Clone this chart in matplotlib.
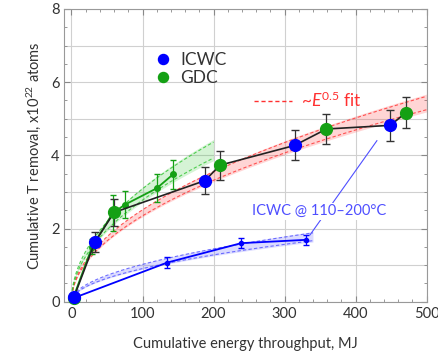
import numpy as np
import matplotlib
matplotlib.use("Agg")
import matplotlib.pyplot as plt
from matplotlib.lines import Line2D

plt.rcParams['font.family'] = ['Lato', 'DejaVu Sans']
plt.rcParams['mathtext.fontset'] = 'custom'
plt.rcParams['mathtext.rm'] = 'Lato'
plt.rcParams['mathtext.it'] = 'Lato:italic'

# combined sequence (ICWC + GDC), black line
icwc_x = [3, 33, 188, 314, 449]
icwc_y = [0.12, 1.63, 3.31, 4.27, 4.82]
icwc_err = [0.05, 0.27, 0.36, 0.41, 0.42]
gdc_x = [3, 60, 209, 359, 471]
gdc_y = [0.10, 2.44, 3.73, 4.72, 5.17]
gdc_err = [0.05, 0.36, 0.40, 0.41, 0.42]

# GDC only series (thin green)
gdc2_x = [2, 29, 58, 75, 120, 143]
gdc2_y = [0.08, 1.50, 2.42, 2.65, 3.10, 3.48]
gdc2_err = [0.05, 0.20, 0.50, 0.37, 0.38, 0.39]

# ICWC at 110-200 C (thin blue)
icwc2_x = [3, 135, 239, 330]
icwc2_y = [0.10, 1.07, 1.60, 1.69]
icwc2_err = [0.03, 0.15, 0.14, 0.13]

BLUE = '#0000ff'
GREEN = '#14a014'
RED = '#ff3030'
LBLUE = '#4f4fff'

fig = plt.figure(figsize=(4.38, 3.6), dpi=100)
ax = fig.add_axes([0.147, 0.162, 0.827, 0.813])


def sqrt_fit(x, y):
    x = np.asarray(x, float)
    y = np.asarray(y, float)
    return np.sum(y * np.sqrt(x)) / np.sum(x)


def band(x, y, xmax, rel, color, alpha):
    a = sqrt_fit(x, y)
    e = np.linspace(0, xmax, 200)
    c = a * np.sqrt(e)
    ax.fill_between(e, c * (1 - rel), c * (1 + rel), color=color, alpha=alpha, lw=0, zorder=2)
    ax.plot(e, c * (1 - rel * 0.75), ls=(0, (3, 2)), color=color, lw=0.8, alpha=0.8, zorder=2)
    ax.plot(e, c * (1 + rel * 0.75), ls=(0, (3, 2)), color=color, lw=0.8, alpha=0.8, zorder=2)


comb_x = np.array(icwc_x + gdc_x)
comb_y = np.array(icwc_y + gdc_y)
band(comb_x, comb_y, 500, 0.045, RED, 0.2)
band(gdc2_x, gdc2_y, 200, 0.07, '#2ec42e', 0.2)
band(icwc2_x, icwc2_y, 340, 0.08, LBLUE, 0.2)

# thin series
ax.errorbar(gdc2_x, gdc2_y, yerr=gdc2_err, color=GREEN, lw=1.3, marker='o', ms=4,
            capsize=2.5, elinewidth=0.9, zorder=4)
ax.errorbar(icwc2_x, icwc2_y, yerr=icwc2_err, color=BLUE, lw=1.3, marker='o', ms=3,
            capsize=2.5, elinewidth=0.9, zorder=4)

# combined black line
order = np.argsort(comb_x, kind='stable')
ax.plot(comb_x[order], comb_y[order], color='#222222', lw=1.2, zorder=5)
ax.errorbar(icwc_x, icwc_y, yerr=icwc_err, ls='none', ecolor='#333333', elinewidth=0.9,
            capsize=3, zorder=5)
ax.errorbar(gdc_x, gdc_y, yerr=gdc_err, ls='none', ecolor='#333333', elinewidth=0.9,
            capsize=3, zorder=5)
h_g, = ax.plot(gdc_x, gdc_y, 'o', color=GREEN, ms=8.5, zorder=6, clip_on=False)
h_b, = ax.plot(icwc_x, icwc_y, 'o', color=BLUE, ms=8.5, zorder=7, clip_on=False)

# annotation
ax.plot([336, 430], [1.83, 4.4], color=LBLUE, lw=0.8, zorder=3)
ax.text(349, 2.47, 'ICWC @ 110\u2013200\u00b0C', color=LBLUE, fontsize=10.5,
        ha='center', va='center', zorder=8,
        bbox=dict(facecolor='white', edgecolor='none', pad=1))

leg1 = ax.legend([h_b, h_g], ['ICWC', 'GDC'], loc='upper left', bbox_to_anchor=(0.2, 0.905),
                 frameon=False, fontsize=12.5, handletextpad=0.4, labelspacing=0.1,
                 markerscale=0.85, handlelength=1.2, labelcolor='#333333')
ax.add_artist(leg1)
fit_h = Line2D([], [], color=RED, ls=(0, (3, 2)), lw=1)
ax.legend([fit_h], ['~$E^{0.5}$ fit'], loc='upper left', bbox_to_anchor=(0.48, 0.775),
          frameon=False, fontsize=12.5, labelcolor=RED, handlelength=2.2, handletextpad=0.5)

ax.set_xlim(-10, 500)
ax.set_ylim(0, 8)
ax.set_xticks([0, 100, 200, 300, 400, 500])
ax.set_xticks(np.arange(0, 501, 20), minor=True)
ax.set_yticks([0, 2, 4, 6, 8])
ax.set_yticks(np.arange(0, 8.01, 0.5), minor=True)
ax.grid(True, which='major', color='#d0d0d0', lw=0.8)
for yv in [1, 3, 5, 7]:
    ax.axhline(yv, color='#d0d0d0', lw=0.8, zorder=0)
ax.set_axisbelow(True)
ax.tick_params(which='both', direction='in', top=True, right=True, colors='#888888',
               labelcolor='#333333', labelsize=10.5)
ax.tick_params(which='major', length=4)
ax.tick_params(which='minor', length=2.5)
for s in ax.spines.values():
    s.set_color('#999999')

ax.set_xlabel('Cumulative energy throughput, MJ', fontsize=10.5, color='#333333', labelpad=12)
ax.set_ylabel('Cumulative T removal, x10$^{22}$ atoms', fontsize=10.5, color='#333333', labelpad=6)

fig.savefig('out.png', dpi=100)
